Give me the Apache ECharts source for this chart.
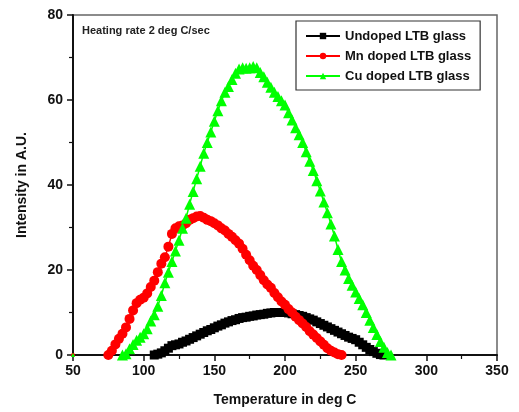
<!DOCTYPE html>
<html>
<head>
<meta charset="utf-8">
<script src="https://cdn.jsdelivr.net/npm/echarts@6/dist/echarts.min.js"></script>
<style>html,body{margin:0;padding:0;background:#fff;}#c{width:519px;height:412px;}</style>
</head>
<body>
<div id="c"></div>
<script>
const seriesNames = ['Undoped LTB glass', 'Mn doped LTB glass', 'Cu doped LTB glass'];
const xTicks = [50, 100, 150, 200, 250, 300, 350];
const yTicks = [0, 20, 40, 60, 80];

const tempUndoped = [107.5,110,112.5,115,117.5,120,122.5,125,127.5,130,132.5,135,137.5,140,142.5,145,147.5,150,152.5,155,157.5,160,162.5,165,167.5,170,172.5,175,177.5,180,182.5,185,187.5,190,192.5,195,197.5,200,202.5,205,207.5,210,212.5,215,217.5,220,222.5,225,227.5,230,232.5,235,237.5,240,242.5,245,247.5,250,252.5,255,257.5,260,262.5,265,267.5,270];
const undoped = [0,0.2,0.5,1,1.6,2.2,2.4,2.6,3,3.3,3.7,4.1,4.5,4.9,5.3,5.7,6,6.4,6.8,7.1,7.5,7.8,8.1,8.3,8.6,8.8,8.9,9.1,9.2,9.4,9.5,9.6,9.8,9.9,10,10,10,10,9.9,9.7,9.5,9.3,9.1,8.8,8.5,8.2,7.8,7.4,7,6.6,6.2,5.8,5.4,5,4.6,4.2,3.9,3.6,3,2.4,1.8,1.3,0.8,0.4,0.1,0];

const tempMn = [50,75,77.5,80,82.5,85,87.5,90,92.5,95,97.5,100,102.5,105,107.5,110,112.5,115,117.5,120,122.5,125,127.5,130,132.5,135,137.5,140,142.5,145,147.5,150,152.5,155,157.5,160,162.5,165,167.5,170,172.5,175,177.5,180,182.5,185,187.5,190,192.5,195,197.5,200,202.5,205,207.5,210,212.5,215,217.5,220,222.5,225,227.5,230,232.5,235,237.5,240];
const mnDoped = [0,0,1,2.5,3.8,5,6.5,8.5,10.5,12.2,13,13.5,14.5,16,17.5,19.5,21.5,23,25.5,28.5,29.8,30.3,30.5,31,31.8,32.2,32.6,32.7,32.3,31.8,31.5,31,30.5,29.8,29.3,28.5,27.8,27,26.2,25,23.6,22.3,21,20,18.8,17.6,16.6,15.8,14.6,13.6,12.6,11.8,10.8,10,9,8.2,7.4,6.6,5.6,4.8,4,3.2,2.4,1.6,1,0.6,0.2,0];

const tempCu = [50,85,87.5,90,92.5,95,97.5,100,102.5,105,107.5,110,112.5,115,117.5,120,122.5,125,127.5,130,132.5,135,137.5,140,142.5,145,147.5,150,152.5,155,157.5,160,162.5,165,167.5,170,172.5,175,177.5,180,182.5,185,187.5,190,192.5,195,197.5,200,202.5,205,207.5,210,212.5,215,217.5,220,222.5,225,227.5,230,232.5,235,237.5,240,242.5,245,247.5,250,252.5,255,257.5,260,262.5,265,267.5,270,272.5,275];
const cuDoped = [0,0,0.3,1.5,2.5,3.5,4.2,5,6.2,8,9.5,11.5,14,17,19.5,22,24.5,27,29.8,32.2,35.5,38.5,41.5,44.4,47.5,50,52.5,55,57.5,59.8,61.8,63.2,64.8,66.3,67.3,67.6,67.5,67.6,67.9,67.6,66.5,65.5,64.2,63,61.8,60.8,59.8,58.8,57,55.3,53.5,51.8,50,47.8,45.6,43.4,41,38.6,36,33.5,30.8,28,24.8,22,20,18,16.4,14.8,13.3,11.8,10,8.2,6.5,4.8,3.2,1.8,0.6,0];

const colors = ['#000000', '#ff0000', '#00ff00'];
const symbols = ['rect', 'circle', 'triangle'];
const symbolSizes = [9, 10, 11];

function pairs(xs, ys, isolatedFirst) {
  const out = [];
  for (let i = 0; i < xs.length; i++) {
    if (isolatedFirst && i === 0) {
      out.push({value: [xs[0], ys[0]], symbolSize: 4});
      out.push([xs[0] + 1, '-']);
    } else {
      out.push([xs[i], ys[i]]);
    }
  }
  return out;
}

const datasets = [
  pairs(tempUndoped, undoped, false),
  pairs(tempMn, mnDoped, true),
  pairs(tempCu, cuDoped, true)
];

const chart = echarts.init(document.getElementById('c'), null, {renderer: 'canvas'});
const font = 'Liberation Sans, Arial, sans-serif';
chart.setOption({
  animation: false,
  backgroundColor: '#fff',
  grid: {left: 73, right: 22, top: 15, bottom: 56, show: true, borderColor: '#666', borderWidth: 1.5, backgroundColor: 'transparent'},
  xAxis: {
    type: 'value', min: xTicks[0], max: xTicks[xTicks.length - 1], interval: 50,
    name: 'Temperature in deg C', nameLocation: 'middle', nameGap: 38,
    nameTextStyle: {fontFamily: font, fontWeight: 'bold', fontSize: 14, color: '#111'},
    axisLine: {onZero: false, lineStyle: {color: '#111', width: 2}},
    axisTick: {inside: false, length: 6, lineStyle: {color: '#111', width: 1.5}},
    minorTick: {show: true, splitNumber: 2, length: 4, lineStyle: {color: '#111', width: 1.2}},
    axisLabel: {fontFamily: font, fontWeight: 'bold', fontSize: 14, color: '#111', margin: 9},
    splitLine: {show: false}
  },
  yAxis: {
    type: 'value', min: yTicks[0], max: yTicks[yTicks.length - 1], interval: 20,
    name: 'Intensity in A.U.', nameLocation: 'middle', nameGap: 44,
    nameTextStyle: {fontFamily: font, fontWeight: 'bold', fontSize: 14, color: '#111'},
    axisLine: {onZero: false, lineStyle: {color: '#111', width: 2}},
    axisTick: {inside: false, length: 6, lineStyle: {color: '#111', width: 1.5}},
    minorTick: {show: true, splitNumber: 2, length: 4, lineStyle: {color: '#111', width: 1.2}},
    axisLabel: {fontFamily: font, fontWeight: 'bold', fontSize: 14, color: '#111', margin: 10},
    splitLine: {show: false}
  },
  legend: {
    orient: 'vertical', left: 296, top: 21,
    padding: [8, 9, 7, 9], itemGap: 6, itemWidth: 34, itemHeight: 8,
    backgroundColor: '#fff', borderColor: '#333', borderWidth: 1.2, borderRadius: 0,
    textStyle: {fontFamily: font, fontWeight: 'bold', fontSize: 13, color: '#111', lineHeight: 14},
    data: seriesNames.map(function (n) { return {name: n, itemStyle: {}}; })
  },
  graphic: [{
    type: 'text', left: 82, top: 25,
    style: {text: 'Heating rate 2 deg C/sec', font: 'bold 11px Liberation Sans, Arial, sans-serif', fill: '#222'}
  }],
  series: seriesNames.map((name, i) => ({
    name: name, type: 'line', data: datasets[i],
    symbol: symbols[i], symbolSize: symbolSizes[i], showAllSymbol: true,
    itemStyle: {color: colors[i]},
    lineStyle: {color: colors[i], width: 1.5},
    connectNulls: false, clip: false
  }))
});
</script>
</body>
</html>
